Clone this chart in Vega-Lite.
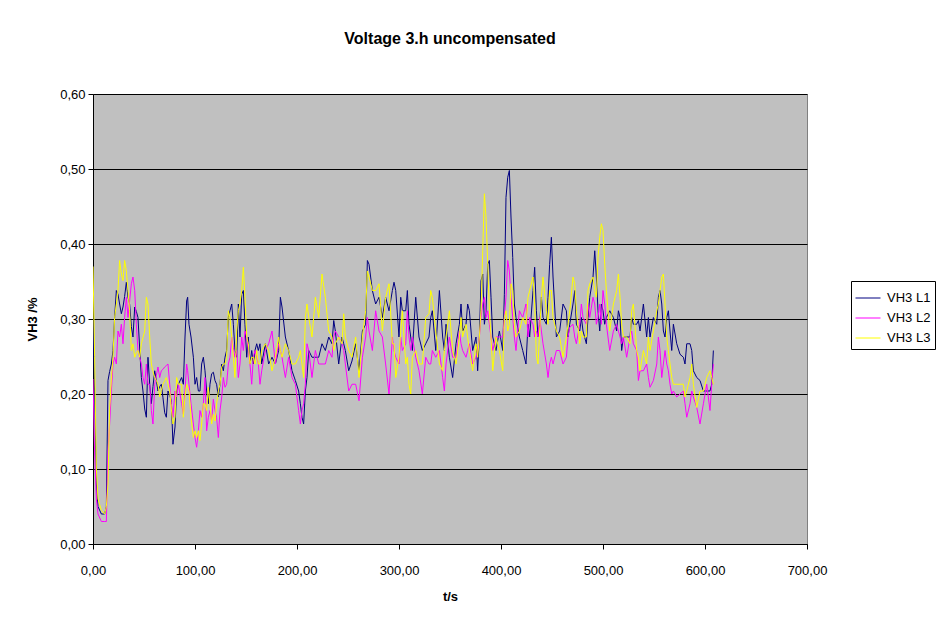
{
  "$schema": "https://vega.github.io/schema/vega-lite/v6.json",
  "width": 714,
  "height": 450,
  "autosize": {"type": "none"},
  "padding": {"left": 93, "top": 94, "right": 131, "bottom": 75},
  "background": "white",
  "title": {"text": "Voltage 3.h uncompensated", "font": "Liberation Sans", "fontSize": 16, "fontWeight": "bold", "anchor": "middle", "offset": 41, "color": "black"},
  "data": {"values": [
    {"t":0,"VH3 L1":0.30,"VH3 L2":0.22,"VH3 L3":0.37},
    {"t":1.6,"VH3 L1":0.20,"VH3 L2":0.12,"VH3 L3":0.25},
    {"t":3.3,"VH3 L1":0.08,"VH3 L2":0.06,"VH3 L3":0.10},
    {"t":4.9,"VH3 L1":0.05,"VH3 L2":0.04,"VH3 L3":0.06},
    {"t":8.2,"VH3 L1":0.04,"VH3 L2":0.03,"VH3 L3":0.045},
    {"t":11.4,"VH3 L1":0.04,"VH3 L2":0.03,"VH3 L3":0.04},
    {"t":13.1,"VH3 L1":0.05,"VH3 L2":0.03,"VH3 L3":0.05},
    {"t":14.7,"VH3 L1":0.218,"VH3 L2":0.124,"VH3 L3":0.08},
    {"t":16.3,"VH3 L1":0.23,"VH3 L2":0.16,"VH3 L3":0.18},
    {"t":18,"VH3 L1":0.24,"VH3 L2":0.204,"VH3 L3":0.22},
    {"t":19.6,"VH3 L1":0.258,"VH3 L2":0.24,"VH3 L3":0.249},
    {"t":21.2,"VH3 L1":0.302,"VH3 L2":0.249,"VH3 L3":0.302},
    {"t":22.9,"VH3 L1":0.338,"VH3 L2":0.24,"VH3 L3":0.32},
    {"t":24.5,"VH3 L1":0.333,"VH3 L2":0.284,"VH3 L3":0.338},
    {"t":26.1,"VH3 L1":0.32,"VH3 L2":0.276,"VH3 L3":0.378},
    {"t":27.8,"VH3 L1":0.307,"VH3 L2":0.293,"VH3 L3":0.36},
    {"t":29.4,"VH3 L1":0.316,"VH3 L2":0.267,"VH3 L3":0.351},
    {"t":31,"VH3 L1":0.33,"VH3 L2":0.302,"VH3 L3":0.378},
    {"t":32.7,"VH3 L1":0.349,"VH3 L2":0.329,"VH3 L3":0.364},
    {"t":34.3,"VH3 L1":0.329,"VH3 L2":0.302,"VH3 L3":0.338},
    {"t":35.9,"VH3 L1":0.32,"VH3 L2":0.324,"VH3 L3":0.311},
    {"t":37.6,"VH3 L1":0.29,"VH3 L2":0.347,"VH3 L3":0.258},
    {"t":39.2,"VH3 L1":0.276,"VH3 L2":0.356,"VH3 L3":0.267},
    {"t":40.9,"VH3 L1":0.316,"VH3 L2":0.338,"VH3 L3":0.249},
    {"t":42.5,"VH3 L1":0.31,"VH3 L2":0.293,"VH3 L3":0.255},
    {"t":44.1,"VH3 L1":0.302,"VH3 L2":0.258,"VH3 L3":0.258},
    {"t":45.8,"VH3 L1":0.26,"VH3 L2":0.249,"VH3 L3":0.249},
    {"t":47.4,"VH3 L1":0.222,"VH3 L2":0.24,"VH3 L3":0.267},
    {"t":49,"VH3 L1":0.204,"VH3 L2":0.222,"VH3 L3":0.275},
    {"t":50.7,"VH3 L1":0.18,"VH3 L2":0.213,"VH3 L3":0.284},
    {"t":52.3,"VH3 L1":0.169,"VH3 L2":0.24,"VH3 L3":0.329},
    {"t":53.9,"VH3 L1":0.249,"VH3 L2":0.213,"VH3 L3":0.32},
    {"t":55.6,"VH3 L1":0.213,"VH3 L2":0.213,"VH3 L3":0.276},
    {"t":57.2,"VH3 L1":0.187,"VH3 L2":0.178,"VH3 L3":0.24},
    {"t":58.8,"VH3 L1":0.21,"VH3 L2":0.16,"VH3 L3":0.23},
    {"t":60.5,"VH3 L1":0.231,"VH3 L2":0.213,"VH3 L3":0.222},
    {"t":62.1,"VH3 L1":0.218,"VH3 L2":0.225,"VH3 L3":0.218},
    {"t":63.7,"VH3 L1":0.204,"VH3 L2":0.236,"VH3 L3":0.213},
    {"t":65.4,"VH3 L1":0.21,"VH3 L2":0.222,"VH3 L3":0.196},
    {"t":67,"VH3 L1":0.213,"VH3 L2":0.231,"VH3 L3":0.205},
    {"t":68.6,"VH3 L1":0.195,"VH3 L2":0.233,"VH3 L3":0.213},
    {"t":70.3,"VH3 L1":0.175,"VH3 L2":0.236,"VH3 L3":0.218},
    {"t":71.9,"VH3 L1":0.169,"VH3 L2":0.238,"VH3 L3":0.222},
    {"t":73.5,"VH3 L1":0.204,"VH3 L2":0.24,"VH3 L3":0.213},
    {"t":75.2,"VH3 L1":0.198,"VH3 L2":0.213,"VH3 L3":0.204},
    {"t":76.8,"VH3 L1":0.191,"VH3 L2":0.187,"VH3 L3":0.18},
    {"t":78.4,"VH3 L1":0.133,"VH3 L2":0.169,"VH3 L3":0.16},
    {"t":80.4,"VH3 L1":0.156,"VH3 L2":0.204,"VH3 L3":0.169},
    {"t":82,"VH3 L1":0.204,"VH3 L2":0.196,"VH3 L3":0.222},
    {"t":83.7,"VH3 L1":0.213,"VH3 L2":0.213,"VH3 L3":0.213},
    {"t":86.9,"VH3 L1":0.222,"VH3 L2":0.187,"VH3 L3":0.213},
    {"t":88.6,"VH3 L1":0.213,"VH3 L2":0.173,"VH3 L3":0.169},
    {"t":90.2,"VH3 L1":0.276,"VH3 L2":0.204,"VH3 L3":0.196},
    {"t":91.8,"VH3 L1":0.324,"VH3 L2":0.24,"VH3 L3":0.213},
    {"t":92.8,"VH3 L1":0.329,"VH3 L2":0.231,"VH3 L3":0.209},
    {"t":94.1,"VH3 L1":0.293,"VH3 L2":0.213,"VH3 L3":0.204},
    {"t":96.1,"VH3 L1":0.276,"VH3 L2":0.187,"VH3 L3":0.169},
    {"t":98.4,"VH3 L1":0.249,"VH3 L2":0.16,"VH3 L3":0.142},
    {"t":100,"VH3 L1":0.213,"VH3 L2":0.142,"VH3 L3":0.151},
    {"t":101.6,"VH3 L1":0.222,"VH3 L2":0.129,"VH3 L3":0.142},
    {"t":103.3,"VH3 L1":0.204,"VH3 L2":0.151,"VH3 L3":0.151},
    {"t":104.9,"VH3 L1":0.204,"VH3 L2":0.178,"VH3 L3":0.138},
    {"t":106.5,"VH3 L1":0.24,"VH3 L2":0.169,"VH3 L3":0.16},
    {"t":108.2,"VH3 L1":0.249,"VH3 L2":0.187,"VH3 L3":0.187},
    {"t":109.8,"VH3 L1":0.231,"VH3 L2":0.222,"VH3 L3":0.187},
    {"t":111.4,"VH3 L1":0.204,"VH3 L2":0.151,"VH3 L3":0.178},
    {"t":113.1,"VH3 L1":0.187,"VH3 L2":0.169,"VH3 L3":0.209},
    {"t":114.7,"VH3 L1":0.213,"VH3 L2":0.178,"VH3 L3":0.187},
    {"t":116.3,"VH3 L1":0.227,"VH3 L2":0.164,"VH3 L3":0.16},
    {"t":118,"VH3 L1":0.229,"VH3 L2":0.193,"VH3 L3":0.173},
    {"t":119.6,"VH3 L1":0.218,"VH3 L2":0.178,"VH3 L3":0.164},
    {"t":121.2,"VH3 L1":0.213,"VH3 L2":0.169,"VH3 L3":0.187},
    {"t":122.9,"VH3 L1":0.196,"VH3 L2":0.142,"VH3 L3":0.204},
    {"t":124.5,"VH3 L1":0.213,"VH3 L2":0.178,"VH3 L3":0.213},
    {"t":126.2,"VH3 L1":0.24,"VH3 L2":0.196,"VH3 L3":0.236},
    {"t":127.8,"VH3 L1":0.231,"VH3 L2":0.222,"VH3 L3":0.24},
    {"t":129.4,"VH3 L1":0.249,"VH3 L2":0.209,"VH3 L3":0.24},
    {"t":131,"VH3 L1":0.258,"VH3 L2":0.213,"VH3 L3":0.249},
    {"t":132.7,"VH3 L1":0.302,"VH3 L2":0.24,"VH3 L3":0.311},
    {"t":134.3,"VH3 L1":0.311,"VH3 L2":0.249,"VH3 L3":0.302},
    {"t":136,"VH3 L1":0.32,"VH3 L2":0.276,"VH3 L3":0.276},
    {"t":137.6,"VH3 L1":0.293,"VH3 L2":0.262,"VH3 L3":0.249},
    {"t":139.2,"VH3 L1":0.258,"VH3 L2":0.249,"VH3 L3":0.222},
    {"t":140.9,"VH3 L1":0.249,"VH3 L2":0.258,"VH3 L3":0.284},
    {"t":142.5,"VH3 L1":0.32,"VH3 L2":0.222,"VH3 L3":0.311},
    {"t":144.1,"VH3 L1":0.276,"VH3 L2":0.24,"VH3 L3":0.32},
    {"t":145.8,"VH3 L1":0.333,"VH3 L2":0.276,"VH3 L3":0.338},
    {"t":147.4,"VH3 L1":0.338,"VH3 L2":0.258,"VH3 L3":0.369},
    {"t":149,"VH3 L1":0.293,"VH3 L2":0.284,"VH3 L3":0.329},
    {"t":150.7,"VH3 L1":0.249,"VH3 L2":0.276,"VH3 L3":0.276},
    {"t":152.3,"VH3 L1":0.276,"VH3 L2":0.258,"VH3 L3":0.267},
    {"t":153.9,"VH3 L1":0.24,"VH3 L2":0.24,"VH3 L3":0.24},
    {"t":155.6,"VH3 L1":0.258,"VH3 L2":0.213,"VH3 L3":0.249},
    {"t":157.2,"VH3 L1":0.24,"VH3 L2":0.249,"VH3 L3":0.249},
    {"t":158.8,"VH3 L1":0.258,"VH3 L2":0.258,"VH3 L3":0.24},
    {"t":160.5,"VH3 L1":0.267,"VH3 L2":0.249,"VH3 L3":0.258},
    {"t":162.1,"VH3 L1":0.258,"VH3 L2":0.24,"VH3 L3":0.24},
    {"t":163.7,"VH3 L1":0.267,"VH3 L2":0.213,"VH3 L3":0.24},
    {"t":165.4,"VH3 L1":0.24,"VH3 L2":0.231,"VH3 L3":0.258},
    {"t":169,"VH3 L1":0.267,"VH3 L2":0.258,"VH3 L3":0.267},
    {"t":172.2,"VH3 L1":0.24,"VH3 L2":0.267,"VH3 L3":0.258},
    {"t":175.5,"VH3 L1":0.249,"VH3 L2":0.284,"VH3 L3":0.231},
    {"t":178.8,"VH3 L1":0.24,"VH3 L2":0.24,"VH3 L3":0.249},
    {"t":182,"VH3 L1":0.258,"VH3 L2":0.267,"VH3 L3":0.276},
    {"t":183.7,"VH3 L1":0.329,"VH3 L2":0.258,"VH3 L3":0.258},
    {"t":185.3,"VH3 L1":0.316,"VH3 L2":0.249,"VH3 L3":0.249},
    {"t":188.6,"VH3 L1":0.276,"VH3 L2":0.222,"VH3 L3":0.267},
    {"t":191.8,"VH3 L1":0.258,"VH3 L2":0.249,"VH3 L3":0.258},
    {"t":195.1,"VH3 L1":0.231,"VH3 L2":0.222,"VH3 L3":0.24},
    {"t":198.4,"VH3 L1":0.218,"VH3 L2":0.213,"VH3 L3":0.24},
    {"t":201.6,"VH3 L1":0.204,"VH3 L2":0.178,"VH3 L3":0.249},
    {"t":203.3,"VH3 L1":0.187,"VH3 L2":0.16,"VH3 L3":0.258},
    {"t":204.9,"VH3 L1":0.169,"VH3 L2":0.178,"VH3 L3":0.24},
    {"t":206.5,"VH3 L1":0.16,"VH3 L2":0.187,"VH3 L3":0.222},
    {"t":208.2,"VH3 L1":0.204,"VH3 L2":0.213,"VH3 L3":0.302},
    {"t":209.8,"VH3 L1":0.222,"VH3 L2":0.267,"VH3 L3":0.32},
    {"t":211.5,"VH3 L1":0.258,"VH3 L2":0.258,"VH3 L3":0.302},
    {"t":214.7,"VH3 L1":0.249,"VH3 L2":0.222,"VH3 L3":0.276},
    {"t":218,"VH3 L1":0.249,"VH3 L2":0.258,"VH3 L3":0.329},
    {"t":221.3,"VH3 L1":0.249,"VH3 L2":0.24,"VH3 L3":0.302},
    {"t":224.5,"VH3 L1":0.267,"VH3 L2":0.24,"VH3 L3":0.36},
    {"t":227.8,"VH3 L1":0.258,"VH3 L2":0.24,"VH3 L3":0.329},
    {"t":231.1,"VH3 L1":0.276,"VH3 L2":0.258,"VH3 L3":0.284},
    {"t":234.3,"VH3 L1":0.267,"VH3 L2":0.249,"VH3 L3":0.276},
    {"t":236,"VH3 L1":0.298,"VH3 L2":0.276,"VH3 L3":0.258},
    {"t":237.6,"VH3 L1":0.284,"VH3 L2":0.284,"VH3 L3":0.267},
    {"t":240.9,"VH3 L1":0.24,"VH3 L2":0.276,"VH3 L3":0.276},
    {"t":244.1,"VH3 L1":0.276,"VH3 L2":0.267,"VH3 L3":0.267},
    {"t":245.8,"VH3 L1":0.267,"VH3 L2":0.258,"VH3 L3":0.307},
    {"t":247.4,"VH3 L1":0.258,"VH3 L2":0.24,"VH3 L3":0.276},
    {"t":250.7,"VH3 L1":0.231,"VH3 L2":0.204,"VH3 L3":0.258},
    {"t":253.9,"VH3 L1":0.244,"VH3 L2":0.213,"VH3 L3":0.249},
    {"t":257.5,"VH3 L1":0.267,"VH3 L2":0.213,"VH3 L3":0.276},
    {"t":260.8,"VH3 L1":0.231,"VH3 L2":0.191,"VH3 L3":0.222},
    {"t":264.1,"VH3 L1":0.284,"VH3 L2":0.249,"VH3 L3":0.276},
    {"t":267.3,"VH3 L1":0.293,"VH3 L2":0.276,"VH3 L3":0.311},
    {"t":269,"VH3 L1":0.378,"VH3 L2":0.302,"VH3 L3":0.364},
    {"t":270.6,"VH3 L1":0.373,"VH3 L2":0.284,"VH3 L3":0.356},
    {"t":273.9,"VH3 L1":0.338,"VH3 L2":0.258,"VH3 L3":0.338},
    {"t":277.1,"VH3 L1":0.32,"VH3 L2":0.311,"VH3 L3":0.338},
    {"t":280.4,"VH3 L1":0.329,"VH3 L2":0.284,"VH3 L3":0.347},
    {"t":283.7,"VH3 L1":0.302,"VH3 L2":0.276,"VH3 L3":0.284},
    {"t":286.9,"VH3 L1":0.329,"VH3 L2":0.24,"VH3 L3":0.329},
    {"t":290.2,"VH3 L1":0.311,"VH3 L2":0.2,"VH3 L3":0.347},
    {"t":293.5,"VH3 L1":0.338,"VH3 L2":0.276,"VH3 L3":0.267},
    {"t":295.1,"VH3 L1":0.349,"VH3 L2":0.258,"VH3 L3":0.267},
    {"t":296.8,"VH3 L1":0.338,"VH3 L2":0.249,"VH3 L3":0.222},
    {"t":300,"VH3 L1":0.276,"VH3 L2":0.24,"VH3 L3":0.249},
    {"t":301.7,"VH3 L1":0.329,"VH3 L2":0.276,"VH3 L3":0.284},
    {"t":303.3,"VH3 L1":0.311,"VH3 L2":0.258,"VH3 L3":0.311},
    {"t":306.6,"VH3 L1":0.311,"VH3 L2":0.267,"VH3 L3":0.24},
    {"t":308.2,"VH3 L1":0.338,"VH3 L2":0.311,"VH3 L3":0.249},
    {"t":309.8,"VH3 L1":0.293,"VH3 L2":0.276,"VH3 L3":0.213},
    {"t":311.5,"VH3 L1":0.276,"VH3 L2":0.258,"VH3 L3":0.2},
    {"t":313.1,"VH3 L1":0.258,"VH3 L2":0.276,"VH3 L3":0.249},
    {"t":316.4,"VH3 L1":0.329,"VH3 L2":0.249,"VH3 L3":0.258},
    {"t":319.6,"VH3 L1":0.276,"VH3 L2":0.231,"VH3 L3":0.24},
    {"t":322.9,"VH3 L1":0.258,"VH3 L2":0.2,"VH3 L3":0.24},
    {"t":326.2,"VH3 L1":0.267,"VH3 L2":0.249,"VH3 L3":0.302},
    {"t":329.4,"VH3 L1":0.276,"VH3 L2":0.24,"VH3 L3":0.307},
    {"t":331.1,"VH3 L1":0.302,"VH3 L2":0.24,"VH3 L3":0.338},
    {"t":332.7,"VH3 L1":0.311,"VH3 L2":0.258,"VH3 L3":0.329},
    {"t":336,"VH3 L1":0.258,"VH3 L2":0.249,"VH3 L3":0.284},
    {"t":339.6,"VH3 L1":0.338,"VH3 L2":0.258,"VH3 L3":0.24},
    {"t":342.8,"VH3 L1":0.276,"VH3 L2":0.222,"VH3 L3":0.231},
    {"t":344.5,"VH3 L1":0.258,"VH3 L2":0.204,"VH3 L3":0.258},
    {"t":346.1,"VH3 L1":0.293,"VH3 L2":0.24,"VH3 L3":0.276},
    {"t":349.4,"VH3 L1":0.249,"VH3 L2":0.276,"VH3 L3":0.311},
    {"t":352.6,"VH3 L1":0.222,"VH3 L2":0.249,"VH3 L3":0.258},
    {"t":355.9,"VH3 L1":0.267,"VH3 L2":0.249,"VH3 L3":0.24},
    {"t":359.2,"VH3 L1":0.293,"VH3 L2":0.284,"VH3 L3":0.276},
    {"t":360.8,"VH3 L1":0.32,"VH3 L2":0.267,"VH3 L3":0.302},
    {"t":362.4,"VH3 L1":0.284,"VH3 L2":0.258,"VH3 L3":0.276},
    {"t":365.7,"VH3 L1":0.293,"VH3 L2":0.249,"VH3 L3":0.293},
    {"t":367.3,"VH3 L1":0.32,"VH3 L2":0.258,"VH3 L3":0.276},
    {"t":369,"VH3 L1":0.311,"VH3 L2":0.267,"VH3 L3":0.258},
    {"t":372.2,"VH3 L1":0.258,"VH3 L2":0.24,"VH3 L3":0.231},
    {"t":375.5,"VH3 L1":0.276,"VH3 L2":0.249,"VH3 L3":0.267},
    {"t":377.1,"VH3 L1":0.231,"VH3 L2":0.258,"VH3 L3":0.249},
    {"t":378.8,"VH3 L1":0.276,"VH3 L2":0.276,"VH3 L3":0.276},
    {"t":380.4,"VH3 L1":0.351,"VH3 L2":0.302,"VH3 L3":0.311},
    {"t":382.1,"VH3 L1":0.36,"VH3 L2":0.32,"VH3 L3":0.391},
    {"t":383.7,"VH3 L1":0.293,"VH3 L2":0.329,"VH3 L3":0.467},
    {"t":385.3,"VH3 L1":0.311,"VH3 L2":0.302,"VH3 L3":0.436},
    {"t":387,"VH3 L1":0.373,"VH3 L2":0.311,"VH3 L3":0.373},
    {"t":388.6,"VH3 L1":0.378,"VH3 L2":0.293,"VH3 L3":0.311},
    {"t":390.2,"VH3 L1":0.329,"VH3 L2":0.276,"VH3 L3":0.276},
    {"t":391.9,"VH3 L1":0.276,"VH3 L2":0.258,"VH3 L3":0.231},
    {"t":395.1,"VH3 L1":0.258,"VH3 L2":0.276,"VH3 L3":0.276},
    {"t":398.4,"VH3 L1":0.284,"VH3 L2":0.276,"VH3 L3":0.258},
    {"t":401.7,"VH3 L1":0.258,"VH3 L2":0.276,"VH3 L3":0.231},
    {"t":403.3,"VH3 L1":0.333,"VH3 L2":0.302,"VH3 L3":0.302},
    {"t":404.9,"VH3 L1":0.462,"VH3 L2":0.329,"VH3 L3":0.311},
    {"t":406.6,"VH3 L1":0.489,"VH3 L2":0.378,"VH3 L3":0.284},
    {"t":408.2,"VH3 L1":0.498,"VH3 L2":0.364,"VH3 L3":0.293},
    {"t":409.8,"VH3 L1":0.436,"VH3 L2":0.329,"VH3 L3":0.347},
    {"t":411.5,"VH3 L1":0.382,"VH3 L2":0.302,"VH3 L3":0.338},
    {"t":413.1,"VH3 L1":0.32,"VH3 L2":0.276,"VH3 L3":0.293},
    {"t":414.7,"VH3 L1":0.302,"VH3 L2":0.258,"VH3 L3":0.276},
    {"t":418,"VH3 L1":0.276,"VH3 L2":0.311,"VH3 L3":0.284},
    {"t":421.3,"VH3 L1":0.258,"VH3 L2":0.302,"VH3 L3":0.302},
    {"t":424.5,"VH3 L1":0.24,"VH3 L2":0.32,"VH3 L3":0.293},
    {"t":426.5,"VH3 L1":0.293,"VH3 L2":0.276,"VH3 L3":0.329},
    {"t":428.1,"VH3 L1":0.276,"VH3 L2":0.302,"VH3 L3":0.338},
    {"t":431.4,"VH3 L1":0.338,"VH3 L2":0.293,"VH3 L3":0.356},
    {"t":433,"VH3 L1":0.369,"VH3 L2":0.276,"VH3 L3":0.32},
    {"t":434.7,"VH3 L1":0.311,"VH3 L2":0.284,"VH3 L3":0.249},
    {"t":436.3,"VH3 L1":0.276,"VH3 L2":0.276,"VH3 L3":0.24},
    {"t":437.9,"VH3 L1":0.293,"VH3 L2":0.302,"VH3 L3":0.284},
    {"t":439.6,"VH3 L1":0.329,"VH3 L2":0.284,"VH3 L3":0.329},
    {"t":441.2,"VH3 L1":0.302,"VH3 L2":0.267,"VH3 L3":0.356},
    {"t":444.5,"VH3 L1":0.293,"VH3 L2":0.24,"VH3 L3":0.311},
    {"t":446.1,"VH3 L1":0.329,"VH3 L2":0.222,"VH3 L3":0.293},
    {"t":447.7,"VH3 L1":0.373,"VH3 L2":0.24,"VH3 L3":0.338},
    {"t":449.4,"VH3 L1":0.409,"VH3 L2":0.249,"VH3 L3":0.338},
    {"t":451,"VH3 L1":0.356,"VH3 L2":0.24,"VH3 L3":0.302},
    {"t":454.3,"VH3 L1":0.276,"VH3 L2":0.258,"VH3 L3":0.284},
    {"t":457.5,"VH3 L1":0.284,"VH3 L2":0.258,"VH3 L3":0.276},
    {"t":460.8,"VH3 L1":0.32,"VH3 L2":0.24,"VH3 L3":0.249},
    {"t":464.1,"VH3 L1":0.311,"VH3 L2":0.249,"VH3 L3":0.276},
    {"t":465.7,"VH3 L1":0.276,"VH3 L2":0.276,"VH3 L3":0.293},
    {"t":467.4,"VH3 L1":0.293,"VH3 L2":0.289,"VH3 L3":0.311},
    {"t":470.6,"VH3 L1":0.32,"VH3 L2":0.293,"VH3 L3":0.356},
    {"t":472.3,"VH3 L1":0.338,"VH3 L2":0.276,"VH3 L3":0.347},
    {"t":473.9,"VH3 L1":0.293,"VH3 L2":0.267,"VH3 L3":0.311},
    {"t":477.2,"VH3 L1":0.284,"VH3 L2":0.293,"VH3 L3":0.267},
    {"t":478.8,"VH3 L1":0.302,"VH3 L2":0.32,"VH3 L3":0.284},
    {"t":480.4,"VH3 L1":0.284,"VH3 L2":0.302,"VH3 L3":0.276},
    {"t":483.7,"VH3 L1":0.267,"VH3 L2":0.293,"VH3 L3":0.276},
    {"t":485.3,"VH3 L1":0.302,"VH3 L2":0.32,"VH3 L3":0.338},
    {"t":487,"VH3 L1":0.329,"VH3 L2":0.302,"VH3 L3":0.347},
    {"t":490.2,"VH3 L1":0.356,"VH3 L2":0.329,"VH3 L3":0.356},
    {"t":491.9,"VH3 L1":0.391,"VH3 L2":0.32,"VH3 L3":0.338},
    {"t":493.5,"VH3 L1":0.356,"VH3 L2":0.293,"VH3 L3":0.329},
    {"t":495.1,"VH3 L1":0.311,"VH3 L2":0.302,"VH3 L3":0.382},
    {"t":496.8,"VH3 L1":0.284,"VH3 L2":0.32,"VH3 L3":0.409},
    {"t":498.4,"VH3 L1":0.32,"VH3 L2":0.293,"VH3 L3":0.427},
    {"t":500,"VH3 L1":0.311,"VH3 L2":0.338,"VH3 L3":0.418},
    {"t":501.7,"VH3 L1":0.293,"VH3 L2":0.32,"VH3 L3":0.373},
    {"t":503.3,"VH3 L1":0.302,"VH3 L2":0.293,"VH3 L3":0.338},
    {"t":506.6,"VH3 L1":0.311,"VH3 L2":0.258,"VH3 L3":0.284},
    {"t":510.2,"VH3 L1":0.302,"VH3 L2":0.284,"VH3 L3":0.32},
    {"t":513.4,"VH3 L1":0.284,"VH3 L2":0.293,"VH3 L3":0.338},
    {"t":515.1,"VH3 L1":0.311,"VH3 L2":0.284,"VH3 L3":0.36},
    {"t":516.7,"VH3 L1":0.302,"VH3 L2":0.276,"VH3 L3":0.329},
    {"t":518.3,"VH3 L1":0.258,"VH3 L2":0.267,"VH3 L3":0.293},
    {"t":520,"VH3 L1":0.276,"VH3 L2":0.276,"VH3 L3":0.276},
    {"t":523.2,"VH3 L1":0.276,"VH3 L2":0.249,"VH3 L3":0.276},
    {"t":526.5,"VH3 L1":0.276,"VH3 L2":0.276,"VH3 L3":0.267},
    {"t":528.1,"VH3 L1":0.302,"VH3 L2":0.284,"VH3 L3":0.311},
    {"t":529.8,"VH3 L1":0.293,"VH3 L2":0.267,"VH3 L3":0.32},
    {"t":533,"VH3 L1":0.293,"VH3 L2":0.258,"VH3 L3":0.258},
    {"t":534.7,"VH3 L1":0.298,"VH3 L2":0.218,"VH3 L3":0.249},
    {"t":536.3,"VH3 L1":0.284,"VH3 L2":0.231,"VH3 L3":0.231},
    {"t":539.6,"VH3 L1":0.32,"VH3 L2":0.231,"VH3 L3":0.258},
    {"t":542.8,"VH3 L1":0.276,"VH3 L2":0.24,"VH3 L3":0.24},
    {"t":544.5,"VH3 L1":0.302,"VH3 L2":0.222,"VH3 L3":0.276},
    {"t":546.1,"VH3 L1":0.276,"VH3 L2":0.209,"VH3 L3":0.258},
    {"t":549.4,"VH3 L1":0.302,"VH3 L2":0.218,"VH3 L3":0.284},
    {"t":552.7,"VH3 L1":0.293,"VH3 L2":0.24,"VH3 L3":0.311},
    {"t":554.3,"VH3 L1":0.329,"VH3 L2":0.276,"VH3 L3":0.32},
    {"t":555.9,"VH3 L1":0.338,"VH3 L2":0.258,"VH3 L3":0.338},
    {"t":557.6,"VH3 L1":0.32,"VH3 L2":0.222,"VH3 L3":0.356},
    {"t":559.2,"VH3 L1":0.284,"VH3 L2":0.24,"VH3 L3":0.36},
    {"t":560.8,"VH3 L1":0.276,"VH3 L2":0.258,"VH3 L3":0.32},
    {"t":562.5,"VH3 L1":0.302,"VH3 L2":0.24,"VH3 L3":0.276},
    {"t":564.1,"VH3 L1":0.311,"VH3 L2":0.231,"VH3 L3":0.258},
    {"t":565.7,"VH3 L1":0.284,"VH3 L2":0.213,"VH3 L3":0.24},
    {"t":567.4,"VH3 L1":0.258,"VH3 L2":0.2,"VH3 L3":0.222},
    {"t":569,"VH3 L1":0.293,"VH3 L2":0.204,"VH3 L3":0.213},
    {"t":572.3,"VH3 L1":0.267,"VH3 L2":0.196,"VH3 L3":0.213},
    {"t":575.5,"VH3 L1":0.253,"VH3 L2":0.2,"VH3 L3":0.213},
    {"t":578.8,"VH3 L1":0.249,"VH3 L2":0.204,"VH3 L3":0.213},
    {"t":580.4,"VH3 L1":0.24,"VH3 L2":0.187,"VH3 L3":0.196},
    {"t":582.1,"VH3 L1":0.267,"VH3 L2":0.169,"VH3 L3":0.204},
    {"t":585.3,"VH3 L1":0.267,"VH3 L2":0.187,"VH3 L3":0.222},
    {"t":587,"VH3 L1":0.258,"VH3 L2":0.204,"VH3 L3":0.24},
    {"t":588.6,"VH3 L1":0.231,"VH3 L2":0.196,"VH3 L3":0.213},
    {"t":591.9,"VH3 L1":0.222,"VH3 L2":0.182,"VH3 L3":0.182},
    {"t":595.1,"VH3 L1":0.218,"VH3 L2":0.16,"VH3 L3":0.204},
    {"t":598.4,"VH3 L1":0.204,"VH3 L2":0.187,"VH3 L3":0.204},
    {"t":601.7,"VH3 L1":0.204,"VH3 L2":0.213,"VH3 L3":0.222},
    {"t":604.9,"VH3 L1":0.204,"VH3 L2":0.178,"VH3 L3":0.231},
    {"t":606.6,"VH3 L1":0.213,"VH3 L2":0.213,"VH3 L3":0.222},
    {"t":608.2,"VH3 L1":0.258,"VH3 L2":0.24,"VH3 L3":0.213}
  ]},
  "transform": [{"fold": ["VH3 L1", "VH3 L2", "VH3 L3"], "as": ["series", "value"]}],
  "mark": {"type": "line", "strokeWidth": 1, "clip": true},
  "encoding": {
    "x": {
      "field": "t", "type": "quantitative",
      "scale": {"domain": [0, 700], "nice": false, "zero": false},
      "axis": {
        "title": "t/s", "values": [0, 100, 200, 300, 400, 500, 600, 700],
        "labelExpr": "replace(format(datum.value, '.2f'), '.', ',')",
        "labelFlush": false, "labelOverlap": false,
        "grid": false, "tickSize": 5, "labelPadding": 15, "titlePadding": 13
      }
    },
    "y": {
      "field": "value", "type": "quantitative",
      "scale": {"domain": [0, 0.6], "nice": false},
      "axis": {
        "title": "VH3 /%", "values": [0, 0.1, 0.2, 0.3, 0.4, 0.5, 0.6],
        "labelExpr": "replace(format(datum.value, '.2f'), '.', ',')",
        "labelFlush": false, "labelOverlap": false,
        "grid": true, "gridColor": "#000000", "gridWidth": 1, "gridOpacity": 1,
        "tickSize": 5, "labelPadding": 3, "titlePadding": 20
      }
    },
    "color": {
      "field": "series", "type": "nominal",
      "scale": {"domain": ["VH3 L1", "VH3 L2", "VH3 L3"], "range": ["#000080", "#FF00FF", "#FFFF00"]},
      "legend": {
        "title": null, "orient": "none", "legendX": 758, "legendY": 187,
        "strokeColor": "#000000", "fillColor": "#FFFFFF", "padding": 4,
        "symbolType": "stroke", "symbolSize": 625, "symbolStrokeWidth": 1,
        "rowPadding": 0, "labelOffset": 6
      }
    }
  },
  "config": {
    "font": "Liberation Sans",
    "view": {"fill": "#C0C0C0", "stroke": "#808080", "strokeWidth": 1},
    "axis": {
      "domainColor": "#000000", "tickColor": "#000000",
      "labelFont": "Liberation Sans", "labelFontSize": 13, "labelColor": "#000000",
      "titleFont": "Liberation Sans", "titleFontSize": 13, "titleFontWeight": "bold", "titleColor": "#000000"
    },
    "legend": {"labelFont": "Liberation Sans", "labelFontSize": 13, "labelColor": "#000000"}
  }
}
